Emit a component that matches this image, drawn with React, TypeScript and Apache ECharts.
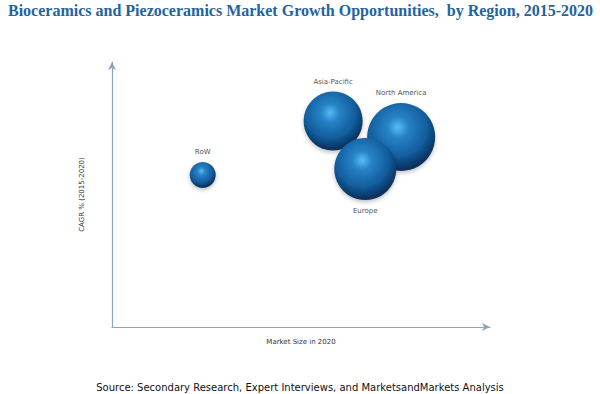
import React, { useEffect, useRef } from "react";
import * as echarts from "echarts";

const regions = ["RoW", "Asia-Pacific", "North America", "Europe"];
const marketSize = [24, 58.5, 76.5, 67];
const cagr = [57.4, 77.7, 71.7, 59.6];
const bubbleSize = [26, 59, 68, 62];
const labelPos = ["top", "top", "top", "bottom"];

const TITLE = "Bioceramics and Piezoceramics Market Growth Opportunities,  by Region, 2015-2020";
const X_NAME = "Market Size in 2020";
const Y_NAME = "CAGR % (2015-2020)";
const SOURCE = "Source: Secondary Research, Expert Interviews, and MarketsandMarkets Analysis";

export default function App() {
  const ref = useRef<HTMLDivElement>(null);
  useEffect(() => {
    if (!ref.current) return;
    const chart = echarts.init(ref.current, null, { renderer: "svg" });
    const fill = new echarts.graphic.RadialGradient(0.45, 0.36, 0.62, [
      { offset: 0, color: "#58bcf3" },
      { offset: 0.25, color: "#2783c6" },
      { offset: 0.7, color: "#125c9c" },
      { offset: 1, color: "#08305a" },
    ]);
    chart.setOption({
      animation: false,
      backgroundColor: "#ffffff",
      title: [
        {
          text: TITLE,
          left: 3,
          top: -3,
          textStyle: {
            fontFamily: "Liberation Serif",
            fontWeight: "bold",
            fontSize: 16,
            color: "#1f63a0",
          },
        },
        {
          text: SOURCE,
          left: "center",
          top: 377,
          textStyle: {
            fontFamily: "DejaVu Sans",
            fontWeight: "normal",
            fontSize: 10,
            color: "#111",
          },
        },
      ],
      grid: { left: 112, right: 110, top: 62, bottom: 67 },
      xAxis: {
        type: "value",
        min: 0,
        max: 100,
        name: X_NAME,
        nameLocation: "middle",
        nameGap: 11,
        nameTextStyle: { fontFamily: "DejaVu Sans", fontSize: 7, color: "#333" },
        axisLine: {
          show: true,
          symbol: ["none", "arrow"],
          symbolSize: [6, 8],
          lineStyle: { color: "#8aa6bf", width: 1.2 },
        },
        axisTick: { show: false },
        axisLabel: { show: false },
        splitLine: { show: false },
      },
      yAxis: {
        type: "value",
        min: 0,
        max: 100,
        name: Y_NAME,
        nameLocation: "middle",
        nameGap: 27,
        nameRotate: 90,
        nameTextStyle: { fontFamily: "DejaVu Sans", fontSize: 7, color: "#333" },
        axisLine: {
          show: true,
          symbol: ["none", "arrow"],
          symbolSize: [6, 8],
          lineStyle: { color: "#8aa6bf", width: 1.2 },
        },
        axisTick: { show: false },
        axisLabel: { show: false },
        splitLine: { show: false },
      },
      series: [
        {
          type: "scatter",
          symbolSize: (v: number[]) => v[2],
          data: regions.map((r, i) => ({
            name: r,
            value: [marketSize[i], cagr[i], bubbleSize[i]],
            label: {
              show: true,
              position: labelPos[i],
              distance: labelPos[i] === "top" ? 6 : 7,
              formatter: r,
              fontFamily: "DejaVu Sans",
              fontSize: 7,
              color: "#555",
            },
          })),
          itemStyle: {
            color: fill,
            opacity: 1,
            shadowBlur: 4,
            shadowColor: "rgba(0,0,0,0.25)",
            shadowOffsetY: 2,
          },
        },
      ],
    });
    return () => chart.dispose();
  }, []);
  return <div ref={ref} style={{ width: 600, height: 394, position: "absolute", left: 0, top: 0 }} />;
}
